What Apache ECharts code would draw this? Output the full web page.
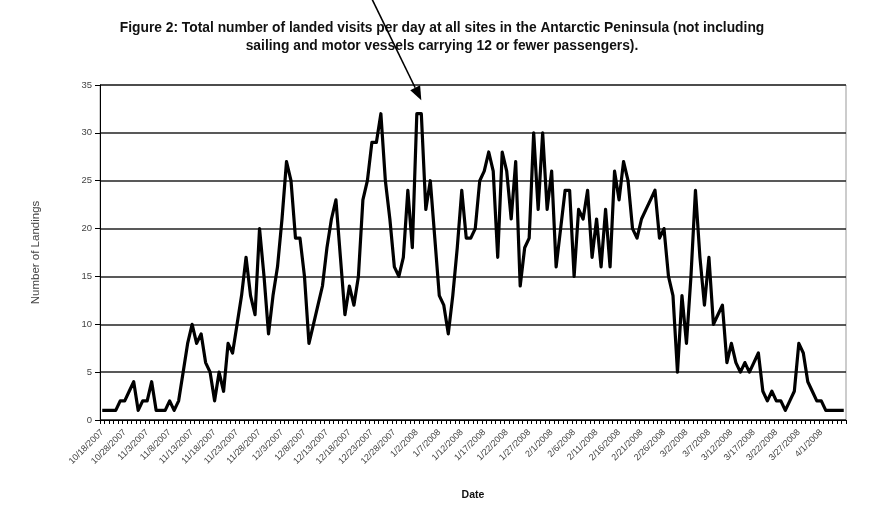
<!DOCTYPE html>
<html>
<head>
<meta charset="utf-8">
<script src="https://cdn.jsdelivr.net/npm/echarts@6/dist/echarts.min.js"></script>
<style>html,body{margin:0;padding:0;background:#fff;}#c{width:884px;height:527px;}</style>
</head>
<body>
<div id="c"></div>
<script>
const titleText = 'Figure 2: Total number of landed visits per day at all sites in the Antarctic Peninsula (not including\nsailing and motor vessels carrying 12 or fewer passengers).';
const yAxisName = 'Number of Landings';
const xAxisName = 'Date';

const dates = [
 '10/18/2007','10/20/2007','10/22/2007','10/24/2007','10/26/2007','10/28/2007','10/30/2007','10/31/2007','11/1/2007','11/2/2007',
 '11/3/2007','11/4/2007','11/5/2007','11/6/2007','11/7/2007','11/8/2007','11/9/2007','11/10/2007','11/11/2007','11/12/2007',
 '11/13/2007','11/14/2007','11/15/2007','11/16/2007','11/17/2007','11/18/2007','11/19/2007','11/20/2007','11/21/2007','11/22/2007',
 '11/23/2007','11/24/2007','11/25/2007','11/26/2007','11/27/2007','11/28/2007','11/29/2007','11/30/2007',
 '12/1/2007','12/2/2007','12/3/2007','12/4/2007','12/5/2007','12/6/2007','12/7/2007','12/8/2007','12/9/2007','12/10/2007',
 '12/11/2007','12/12/2007','12/13/2007','12/14/2007','12/15/2007','12/16/2007','12/17/2007','12/18/2007','12/19/2007','12/20/2007',
 '12/21/2007','12/22/2007','12/23/2007','12/24/2007','12/25/2007','12/26/2007','12/27/2007','12/28/2007','12/29/2007','12/30/2007','12/31/2007',
 '1/1/2008','1/2/2008','1/3/2008','1/4/2008','1/5/2008','1/6/2008','1/7/2008','1/8/2008','1/9/2008','1/10/2008',
 '1/11/2008','1/12/2008','1/13/2008','1/14/2008','1/15/2008','1/16/2008','1/17/2008','1/18/2008','1/19/2008','1/20/2008',
 '1/21/2008','1/22/2008','1/23/2008','1/24/2008','1/25/2008','1/26/2008','1/27/2008','1/28/2008','1/29/2008','1/30/2008','1/31/2008',
 '2/1/2008','2/2/2008','2/3/2008','2/4/2008','2/5/2008','2/6/2008','2/7/2008','2/8/2008','2/9/2008','2/10/2008',
 '2/11/2008','2/12/2008','2/13/2008','2/14/2008','2/15/2008','2/16/2008','2/17/2008','2/18/2008','2/19/2008','2/20/2008',
 '2/21/2008','2/22/2008','2/23/2008','2/24/2008','2/25/2008','2/26/2008','2/27/2008','2/28/2008','2/29/2008',
 '3/1/2008','3/2/2008','3/3/2008','3/4/2008','3/5/2008','3/6/2008','3/7/2008','3/8/2008','3/9/2008','3/10/2008',
 '3/11/2008','3/12/2008','3/13/2008','3/14/2008','3/15/2008','3/16/2008','3/17/2008','3/18/2008','3/19/2008','3/20/2008',
 '3/21/2008','3/22/2008','3/23/2008','3/24/2008','3/25/2008','3/26/2008','3/27/2008','3/28/2008','3/29/2008','3/30/2008','3/31/2008',
 '4/1/2008','4/2/2008','4/3/2008','4/4/2008','4/5/2008','4/6/2008'
];

const landings = [
 1,1,1,1,2,2,3,4,1,2,
 2,4,1,1,1,2,1,2,5,8,
 10,8,9,6,5,2,5,3,8,7,
 10,13,17,13,11,20,15,9,13,16,
 21,27,25,19,19,15,8,10,12,14,
 18,21,23,17,11,14,12,15,23,25,
 29,29,32,25,21,16,15,17,24,18,
 32,32,22,25,19,13,12,9,13,18,
 24,19,19,20,25,26,28,26,17,28,
 26,21,27,14,18,19,30,22,30,22,
 26,16,20,24,24,15,22,21,24,17,
 21,16,22,16,26,23,27,25,20,19,
 21,22,23,24,19,20,15,13,5,13,
 8,15,24,17,12,17,10,11,12,6,
 8,6,5,6,5,6,7,3,2,3,
 2,2,1,2,3,8,7,4,3,2,
 2,1,1,1,1,1
];

const yTicks = [0, 5, 10, 15, 20, 25, 30, 35];

// Arrow annotation endpoints in data space [category index, value]
const arrowFrom = [60, 44];
const arrowTo = [71, 33.4];

const chart = echarts.init(document.getElementById('c'), null, {renderer: 'canvas'});
const font = 'Liberation Sans, Arial, sans-serif';

chart.setOption({
  animation: false,
  backgroundColor: '#fff',
  title: {
    text: titleText,
    left: 'center',
    top: 14,
    textStyle: {fontFamily: font, fontSize: 13.8, fontWeight: 'bold', color: '#111', lineHeight: 18}
  },
  grid: {left: 100, right: 38, top: 85, bottom: 107, show: true, borderColor: '#999', borderWidth: 1},
  xAxis: {
    type: 'category',
    data: dates,
    boundaryGap: true,
    name: xAxisName,
    nameLocation: 'middle',
    nameGap: 70,
    nameTextStyle: {fontFamily: font, fontSize: 10.5, fontWeight: 'bold', color: '#111'},
    axisLine: {lineStyle: {color: '#000', width: 1}},
    axisTick: {show: true, interval: 0, length: 4, lineStyle: {color: '#000'}},
    axisLabel: {
      interval: function (idx) { return idx % 5 === 0 && idx <= 160; },
      rotate: 45,
      fontFamily: font,
      fontSize: 9,
      color: '#444',
      margin: 11
    },
    splitLine: {show: false}
  },
  yAxis: {
    type: 'value',
    min: 0,
    max: 35,
    interval: 5,
    name: yAxisName,
    nameLocation: 'middle',
    nameGap: 58,
    nameTextStyle: {fontFamily: font, fontSize: 11.5, color: '#444'},
    axisLine: {show: true, lineStyle: {color: '#000', width: 1}},
    axisTick: {show: true, length: 5, lineStyle: {color: '#000'}},
    axisLabel: {fontFamily: font, fontSize: 9.5, color: '#444', margin: 8,
      formatter: function (v) { return yTicks.indexOf(v) >= 0 ? String(v) : ''; }},
    splitLine: {show: true, lineStyle: {color: '#222', width: 1.5}}
  },
  series: [{
    type: 'line',
    data: landings,
    symbol: 'none',
    smooth: false,
    lineStyle: {color: '#000', width: 3.2, join: 'round'},
    z: 5
  }]
});

function drawArrow() {
  const p0 = chart.convertToPixel({xAxisIndex: 0, yAxisIndex: 0}, arrowFrom);
  const p1 = chart.convertToPixel({xAxisIndex: 0, yAxisIndex: 0}, arrowTo);
  const dx = p1[0] - p0[0], dy = p1[1] - p0[1];
  const len = Math.sqrt(dx * dx + dy * dy);
  const ux = dx / len, uy = dy / len;
  const hl = 14, hw = 5.5;
  const bx = p1[0] - ux * hl, by = p1[1] - uy * hl;
  chart.setOption({
    graphic: [
      {type: 'line', z: 100, shape: {x1: p0[0], y1: p0[1], x2: bx, y2: by}, style: {stroke: '#000', lineWidth: 1.6}},
      {type: 'polygon', z: 100, shape: {points: [[p1[0], p1[1]], [bx - uy * hw, by + ux * hw], [bx + uy * hw, by - ux * hw]]}, style: {fill: '#000'}}
    ]
  });
}
drawArrow();
</script>
</body>
</html>
